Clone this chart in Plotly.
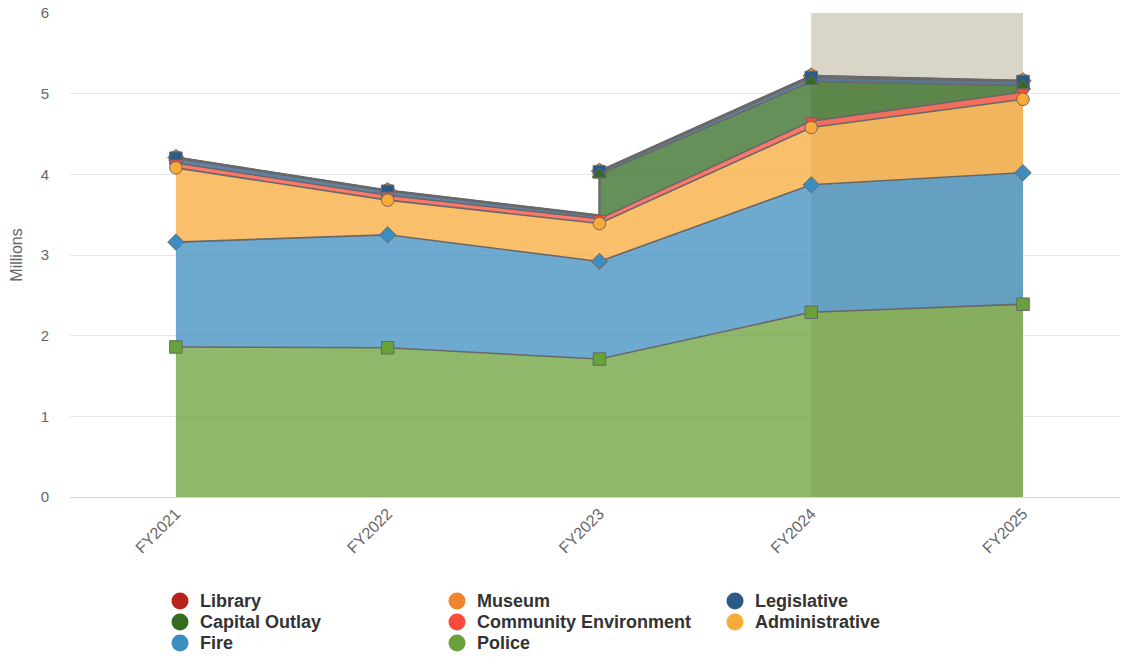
import plotly.graph_objects as go

# Fiscal years on the category axis
years = ["FY2021", "FY2022", "FY2023", "FY2024", "FY2025"]

# Spending by department, in millions (None = no budget line that year)
library = [0.005, 0.005, 0.005, 0.005, 0.005]
museum = [0.01, 0.01, 0.01, 0.02, 0.01]
legislative = [0.06, 0.05, 0.03, 0.05, 0.05]
capital_outlay = [None, None, 0.55, 0.49, 0.08]
community_environment = [0.06, 0.06, 0.06, 0.08, 0.09]
administrative = [0.92, 0.43, 0.47, 0.71, 0.91]
fire = [1.30, 1.40, 1.21, 1.58, 1.63]
police = [1.86, 1.85, 1.71, 2.29, 2.39]

# Series in drawing order (first = top of the stack)
series = [
    ("Library", library, "#b8221c", "circle"),
    ("Museum", museum, "#f0852d", "diamond"),
    ("Legislative", legislative, "#2b5a86", "square"),
    ("Capital Outlay", capital_outlay, "#336b21", "triangle-up"),
    ("Community Environment", community_environment, "#fa4b3a", "triangle-down"),
    ("Administrative", administrative, "#f8aa3a", "circle"),
    ("Fire", fire, "#3d8ec0", "diamond"),
    ("Police", police, "#6aa03a", "square"),
]

# Legend layout: three columns of entries
legend_columns = [
    ["Library", "Capital Outlay", "Fire"],
    ["Museum", "Community Environment", "Police"],
    ["Legislative", "Administrative"],
]

W, H = 1122, 658
M_L, M_R, M_T, M_B = 70, 2, 13, 161
FONT = "Liberation Sans, Arial, Helvetica, sans-serif"
LINE = "#686868"


def rgba(hex_color, a):
    h = hex_color.lstrip("#")
    r, g, b = int(h[0:2], 16), int(h[2:4], 16), int(h[4:6], 16)
    return f"rgba({r},{g},{b},{a})"


n = len(years)
# Expanded sample positions: where a series starts after a gap, the stack
# steps up vertically, so that x is sampled twice (before / after).
samples = []  # (x index, phase) ; phase 0 = before series appear, 1 = after
for i in range(n):
    starts = i > 0 and any(s[1][i - 1] is None and s[1][i] is not None for s in series)
    if starts:
        samples.append((i, 0))
    samples.append((i, 1))


def value_at(vals, i, phase):
    v = vals[i]
    if v is None:
        return 0.0
    if phase == 0 and i > 0 and vals[i - 1] is None:
        return 0.0
    return v


xs = [i for i, _ in samples]
# cumulative stacks, built from the bottom series upward
bottoms = {}
tops = {}
running = [0.0] * len(samples)
for name, vals, color, sym in reversed(series):
    bottoms[name] = running[:]
    running = [running[k] + value_at(vals, i, ph) for k, (i, ph) in enumerate(samples)]
    tops[name] = running[:]

fig = go.Figure()

# Filled bands
for name, vals, color, sym in series:
    px = xs + xs[::-1]
    py = tops[name] + bottoms[name][::-1]
    fig.add_trace(go.Scatter(
        x=px, y=py, mode="lines", fill="toself",
        fillcolor=rgba(color, 0.75), line=dict(width=0),
        hoverinfo="skip", showlegend=False,
    ))

# Outlines and markers on the top of each band
for name, vals, color, sym in series:
    lx, ly = [], []
    for k, (i, ph) in enumerate(samples):
        if vals[i] is None or (ph == 0 and i > 0 and vals[i - 1] is None):
            continue
        lx.append(xs[k])
        ly.append(tops[name][k])
    fig.add_trace(go.Scatter(
        x=lx, y=ly, mode="lines", line=dict(color=LINE, width=1.6),
        hoverinfo="skip", showlegend=False,
    ))
    mx, my = [], []
    for k, (i, ph) in enumerate(samples):
        if ph == 1 and vals[i] is not None:
            mx.append(xs[k])
            my.append(tops[name][k])
    fig.add_trace(go.Scatter(
        x=mx, y=my, mode="markers",
        marker=dict(color=color, symbol=sym, size=12.5,
                    line=dict(color=LINE, width=1)),
        name=name, showlegend=False,
        hovertemplate=name + ": %{y:.2f}M<extra></extra>",
    ))

# Highlighted forecast period
fig.add_shape(type="rect", xref="x", yref="y", x0=3, x1=4, y0=0, y1=6,
              fillcolor="rgb(217,214,199)", line=dict(width=0), layer="between")

# Legend drawn below the plot: round swatches with bold labels
plot_w = W - M_L - M_R
plot_h = H - M_T - M_B
col_px = [180, 457, 735]
row_px = [601, 622, 643]
colors = {s[0]: s[2] for s in series}
for c, names in enumerate(legend_columns):
    for r, nm in enumerate(names):
        cx, cy = col_px[c], row_px[r]
        fig.add_shape(
            type="circle", xref="paper", yref="paper",
            x0=(cx - 8.5 - M_L) / plot_w, x1=(cx + 8.5 - M_L) / plot_w,
            y0=(H - M_B - cy - 8.5) / plot_h, y1=(H - M_B - cy + 8.5) / plot_h,
            fillcolor=colors[nm], line=dict(width=0),
        )
        fig.add_annotation(
            xref="paper", yref="paper",
            x=(cx + 18 - M_L) / plot_w, y=(H - M_B - cy) / plot_h,
            xanchor="left", yanchor="middle", showarrow=False, text=nm,
            font=dict(family=FONT, size=18, color="#333333", weight="bold"),
        )

fig.update_layout(
    width=W, height=H,
    margin=dict(l=M_L, r=M_R, t=M_T, b=M_B, autoexpand=False),
    paper_bgcolor="white", plot_bgcolor="white",
    font=dict(family=FONT, color="#666666"),
    hovermode="closest", showlegend=False,
    xaxis=dict(
        range=[-0.5, 4.458], tickmode="array", tickvals=list(range(n)), ticktext=years,
        tickangle=-45, tickfont=dict(size=16, color="#666666"),
        showgrid=False, zeroline=False, showline=True, linecolor="#ccd6eb",
        ticks="", fixedrange=True, automargin=False,
    ),
    yaxis=dict(
        range=[0, 6], dtick=1, showgrid=True, gridcolor="#e6e6e6",
        zeroline=False, showline=False, tickfont=dict(size=15, color="#666666"),
        ticklabelstandoff=20, automargin=False,
        title=dict(text="Millions", font=dict(size=16, color="#666666"), standoff=14),
        fixedrange=True,
    ),
)

fig.write_html("out.html")
